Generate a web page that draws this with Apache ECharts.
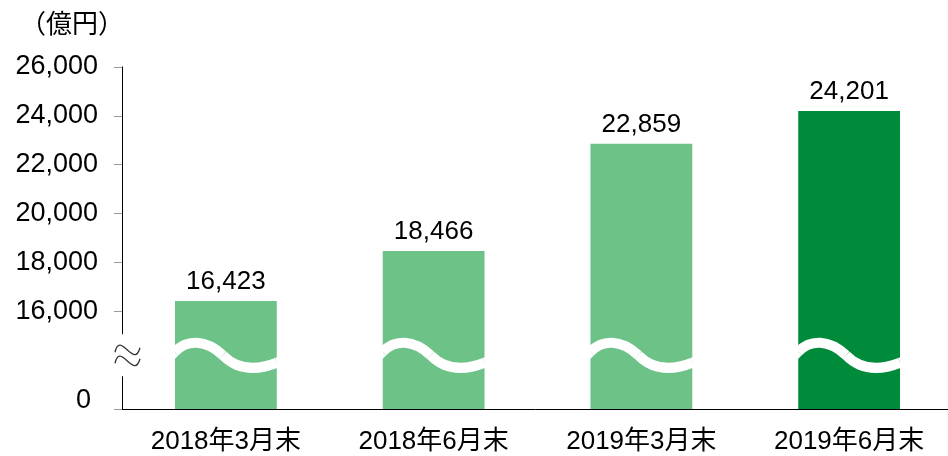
<!DOCTYPE html>
<html>
<head>
<meta charset="utf-8">
<script src="https://cdn.jsdelivr.net/npm/echarts@6/dist/echarts.min.js"></script>
<style>
html,body{margin:0;padding:0;background:#fff;}
#chart{width:948px;height:456px;}
</style>
</head>
<body>
<div id="chart"></div>
<script>
const categories = ['2018年3月末', '2018年6月末', '2019年3月末', '2019年6月末'];
const values = [16423, 18466, 22859, 24201];
const unitLabel = '（億円）';
const axisMin = 12000;   // shown as "0" (broken axis)
const axisMax = 26000;
const axisStep = 2000;
const breakValue = 14200;

const FONT = '"Liberation Sans", "Noto Sans CJK JP", Arial, sans-serif';
const CJKFONT = '"Noto Sans CJK JP", "Liberation Sans", sans-serif';
const LIGHT = '#6cc287';
const DARK = '#008b3a';
const BAR_RATIO = 0.49;

function fmt(v) { return Number(v).toLocaleString('en-US'); }

const chart = echarts.init(document.getElementById('chart'), null, {renderer: 'canvas'});

const titleGraphic = {type: 'text', left: 20, top: 10, style: {text: unitLabel, fontSize: 26, fontFamily: CJKFONT, fill: '#000'}};

const option = {
  animation: false,
  backgroundColor: '#fff',
  grid: {left: 122, width: 831, top: 67, bottom: 47, containLabel: false, outerBoundsMode: 'none'},
  xAxis: {
    type: 'category',
    data: categories,
    axisLine: {lineStyle: {color: '#000', width: 1}},
    axisTick: {show: false},
    axisLabel: {color: '#000', fontSize: 26, fontFamily: FONT, margin: 20}
  },
  yAxis: {
    type: 'value',
    min: axisMin,
    max: axisMax,
    interval: axisStep,
    splitLine: {show: false},
    axisLine: {show: true, lineStyle: {color: '#000', width: 1}},
    axisTick: {show: true, length: 8, lineStyle: {color: '#999'}},
    axisLabel: {
      color: '#000', fontSize: 27, fontFamily: FONT, margin: 24,
      formatter: function (v) {
        if (v === axisMin) return '{z|0}';
        if (v === axisMin + axisStep) return '';
        return fmt(v);
      },
      rich: {
        z: {color: '#000', fontSize: 27, fontFamily: FONT, padding: [0, 7, 16, 0]}
      }
    }
  },
  series: [
    {
      type: 'bar',
      data: values,
      barWidth: (BAR_RATIO * 100) + '%',
      itemStyle: {
        color: function (p) { return p.dataIndex === values.length - 1 ? DARK : LIGHT; }
      },
      label: {
        show: true, position: 'top', distance: 6,
        color: '#000', fontSize: 26, fontFamily: FONT,
        formatter: function (p) { return fmt(p.value); }
      },
      z: 2
    },
    {
      type: 'custom',
      data: categories.map(function (c, i) { return [i, breakValue]; }),
      z: 5,
      silent: true,
      renderItem: function (params, api) {
        const pt = api.coord([api.value(0), api.value(1)]);
        const band = api.size([1, 0])[0];
        const w = band * BAR_RATIO;
        const x0 = pt[0] - w / 2;
        const c = pt[1];
        const style = {stroke: '#fff', lineWidth: 10, fill: null, lineCap: 'butt'};
        return {
          type: 'group',
          children: [
            {type: 'line', shape: {x1: x0 - 6, y1: c + 2.5, x2: x0, y2: c - 3.5}, style: style},
            {type: 'bezierCurve', shape: {x1: x0, y1: c - 3.5, cpx1: x0 + 0.12 * w, cpy1: c - 16, cpx2: x0 + 0.30 * w, cpy2: c - 16, x2: x0 + 0.47 * w, y2: c}, style: style},
            {type: 'bezierCurve', shape: {x1: x0 + 0.47 * w, y1: c, cpx1: x0 + 0.62 * w, cpy1: c + 15.5, cpx2: x0 + 0.80 * w, cpy2: c + 15.5, x2: x0 + w, y2: c + 7.5}, style: style},
            {type: 'line', shape: {x1: x0 + w, y1: c + 7.5, x2: x0 + w + 8, y2: c + 4.3}, style: style}
          ]
        };
      }
    }
  ],
  graphic: [titleGraphic]
};

chart.setOption(option);

// axis break marker on the y axis
const yb = chart.convertToPixel({yAxisIndex: 0}, breakValue);
const tilde = function (dy) {
  const y = yb + dy;
  return {
    type: 'bezierCurve',
    shape: {x1: 115, y1: y + 2.5, cpx1: 120, cpy1: y - 20, cpx2: 134, cpy2: y + 20, x2: 140, y2: y - 2},
    style: {stroke: '#333', lineWidth: 1.3, fill: null},
    z: 100
  };
};
chart.setOption({
  graphic: [
    titleGraphic,
    {type: 'rect', shape: {x: 108, y: yb - 21, width: 18, height: 42}, style: {fill: '#fff'}, z: 99},
    tilde(-5.5),
    tilde(5.5)
  ]
}, {replaceMerge: ['graphic']});
</script>
</body>
</html>
